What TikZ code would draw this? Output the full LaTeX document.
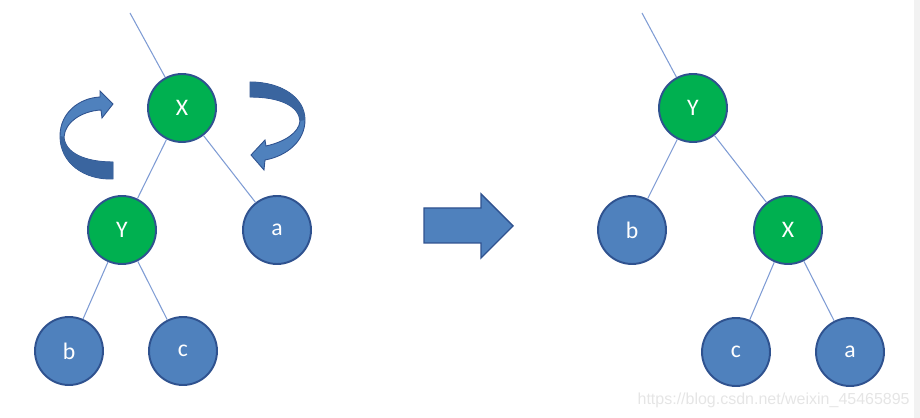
\documentclass[tikz,border=0pt]{standalone}
\usepackage{fontspec}
\setmainfont{Carlito}
\setsansfont{Liberation Sans}
\usepackage{xcolor}
\usepackage{tikz}
\definecolor{nodeblue}{HTML}{4F81BD}
\definecolor{nodegreen}{HTML}{00B050}
\definecolor{rimblue}{HTML}{2F528F}
\definecolor{edgeblue}{HTML}{7F9CD4}
\definecolor{shadeblue}{HTML}{3A659F}

\begin{document}
\begin{tikzpicture}[x=0.02cm, y=-0.02cm]
    \tikzstyle{leaf} = [circle, draw=rimblue, line width=1.1pt, fill=nodeblue, minimum size=1.36cm, inner sep=0pt, text=white, font=\fontsize{13.5}{15}\selectfont]
    \tikzstyle{pivot} = [leaf, fill=nodegreen]
    \tikzstyle{edge} = [draw=edgeblue, line width=0.6pt]
    \tikzstyle{turn} = [fill=nodeblue, draw=rimblue, line width=0.5pt]

    \useasboundingbox (0,0) rectangle (920,418);
    \fill[black!5] (914,0) rectangle (920,418);

    % Before rotation
    \coordinate (top) at (130,13);
    \node[pivot] (X) at (182,108) {X};
    \node[pivot] (Y) at (122,230) {Y};
    \node[leaf] (a) at (277,230) {a};
    \node[leaf] (b) at (69,351) {b};
    \node[leaf] (c) at (183,351) {c};

    % After rotation
    \coordinate (top2) at (642,13);
    \node[pivot] (Y2) at (693,108) {Y};
    \node[leaf] (b2) at (632,230) {b};
    \node[pivot] (X2) at (788,230) {X};
    \node[leaf] (c2) at (736,352) {c};
    \node[leaf] (a2) at (850,352) {a};

    % Edges
    \draw[edge] (top) -- (X);
    \draw[edge] (X) -- (Y);
    \draw[edge] (X) -- (a);
    \draw[edge] (Y) -- (b);
    \draw[edge] (Y) -- (c);
    \draw[edge] (top2) -- (Y2);
    \draw[edge] (Y2) -- (b2);
    \draw[edge] (Y2) -- (X2);
    \draw[edge] (X2) -- (c2);
    \draw[edge] (X2) -- (a2);

    % Turning arrows
    \draw[turn] (113,179) .. controls (84,180) and (60,163) .. (60,136)
        .. controls (60,113) and (79,98) .. (100,97) -- (100,91) -- (113,104)
        -- (102,118) -- (101,110) .. controls (82,111) and (65,122) .. (64,137)
        .. controls (65,153) and (85,162) .. (113,162) -- cycle;
    \fill[shadeblue] (113,179) .. controls (84,180) and (60,163) .. (60,136)
        -- (64,137) .. controls (65,153) and (85,162) .. (113,162) -- cycle;
    \draw[turn] (250,82) .. controls (282,82) and (305,98) .. (305,120)
        .. controls (305,141) and (287,156) .. (265,160) -- (264,170) -- (251,155)
        -- (265,140) -- (266,146) .. controls (284,142) and (299,133) .. (300,121)
        .. controls (299,106) and (280,97) .. (250,97) -- cycle;
    \fill[shadeblue] (250,82) .. controls (282,82) and (305,98) .. (305,120)
        -- (300,121) .. controls (299,106) and (280,97) .. (250,97) -- cycle;

    % Big arrow
    \draw[turn, line width=0.8pt] (424,208) -- (481,208) -- (481,194) -- (513,226)
        -- (481,258) -- (481,243) -- (424,243) -- cycle;

    % Watermark
    \node[anchor=base east, inner sep=0pt, text=black!10, font=\sffamily\fontsize{9.1}{11}\selectfont] (mark) at (910,405) {https://blog.csdn.net/weixin\_45465895};
\end{tikzpicture}
\end{document}
